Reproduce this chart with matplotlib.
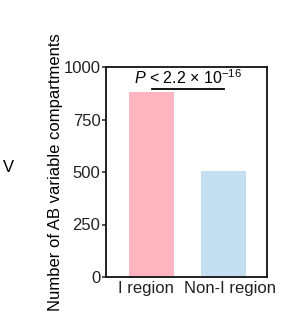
import matplotlib
matplotlib.use('Agg')
import matplotlib.pyplot as plt
from matplotlib.transforms import ScaledTranslation

plt.rcParams['font.family'] = ['Liberation Sans', 'DejaVu Sans']
plt.rcParams['mathtext.fontset'] = 'custom'
plt.rcParams['mathtext.rm'] = 'Liberation Sans'
plt.rcParams['mathtext.it'] = 'Liberation Sans:italic'

categories = ["I region", "Non-I region"]
counts = [879, 507]
bar_colors = ["#FFB5C0", "#C4DEF2"]
yticks = [0, 250, 500, 750, 1000]
p_label = r"$\it{P}$ < 2.2 × 10$^{-16}$"

W, H = 286, 321
fig = plt.figure(figsize=(W / 100, H / 100), dpi=100)
ax = fig.add_axes([106 / W, 44 / H, 161 / W, 210 / H])

xs = list(range(len(categories)))
ax.bar(xs, counts, width=0.625, color=bar_colors, edgecolor='none')

ax.set_ylim(0, 1000)
ax.set_xlim(-0.632, 1.604)
ax.set_yticks(yticks)
ax.set_xticks(xs)
ax.set_xticklabels(categories)
ax.tick_params(axis='y', length=3, width=1.1, labelsize=12, pad=1, colors='#222222')
ax.tick_params(axis='x', length=0, labelsize=12, pad=3, colors='#222222')
for sp in ax.spines.values():
    sp.set_linewidth(1.3)
    sp.set_color('#111111')

# nudge the category labels apart a little, as in the figure
for lab, dx in zip(ax.get_xticklabels(), [-6, 6]):
    lab.set_transform(lab.get_transform() + ScaledTranslation(dx / 100, 0, fig.dpi_scale_trans))

ax.set_ylabel("Number of AB variable compartments", fontsize=12, labelpad=0)

# significance line + p-value
y_line = 1000 * (277 - 89) / 210
ax.plot([xs[0], xs[1]], [y_line, y_line], color='black', lw=1.3, clip_on=False)
ax.text(0.5, y_line + 10, p_label, ha='center', va='bottom', fontsize=11.5)

# leftover label from the neighbouring panel
fig.text(3 / W, 1 - 168 / H, "V", ha='left', va='center', fontsize=12)

fig.savefig("out.png", dpi=100, facecolor='white')
